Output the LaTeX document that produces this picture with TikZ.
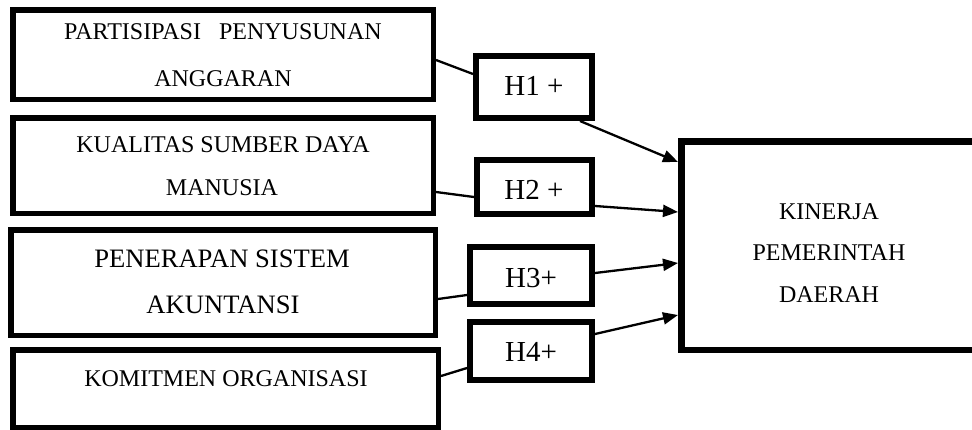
\documentclass[tikz,border=0pt]{standalone}
\usepackage{fontspec}
\setmainfont{Liberation Serif}
\usetikzlibrary{arrows.meta}
\begin{document}
\begin{tikzpicture}[x=1pt,y=-1pt,
  varbox/.style={draw=black,line width=5.5pt,rectangle,inner sep=0pt,anchor=north west},
  hypbox/.style={draw=black,line width=6pt,rectangle,inner sep=0pt,anchor=north west},
  lbl/.style={anchor=base,inner sep=0pt,font=\fontsize{24}{28}\selectfont},
  lblbig/.style={anchor=base,inner sep=0pt,font=\fontsize{26.6}{30}\selectfont},
  hlbl/.style={anchor=base,inner sep=0pt,font=\fontsize{29}{34}\selectfont},
  conn/.style={line width=2.3pt},
  arr/.style={line width=2.3pt,-{Triangle[length=15pt,width=12pt]}}]
\useasboundingbox (0,0) rectangle (972,429);
% variable boxes
\node[varbox,minimum width=420.5pt,minimum height=89.5pt] (b1) at (10,7) {};
\node[varbox,minimum width=420.5pt,minimum height=95.5pt] (b2) at (10,115) {};
\node[varbox,minimum width=424.5pt,minimum height=105.5pt] (b3) at (8,227) {};
\node[varbox,minimum width=425.5pt,minimum height=77.5pt] (b4) at (10,347) {};
% hypothesis boxes
\node[hypbox,minimum width=116pt,minimum height=62pt] (h1) at (473,53) {};
\node[hypbox,minimum width=115pt,minimum height=54pt] (h2) at (474,157) {};
\node[hypbox,minimum width=122pt,minimum height=57pt] (h3) at (467,244) {};
\node[hypbox,minimum width=122pt,minimum height=58pt] (h4) at (467,319) {};
% dependent box
\node[draw=black,line width=6.5pt,rectangle,inner sep=0pt,anchor=north west,minimum width=400pt,minimum height=208.5pt] (k) at (678,138) {};
% texts
\node[lbl] (t1a) at (223,39) {PARTISIPASI\ \ \ PENYUSUNAN};
\node[lbl] (t1b) at (223,86) {ANGGARAN};
\node[lbl] (t2a) at (223,152) {KUALITAS SUMBER DAYA};
\node[lbl] (t2b) at (222,195) {MANUSIA};
\node[lblbig] (t3a) at (222,267) {PENERAPAN SISTEM};
\node[lblbig] (t3b) at (223,313) {AKUNTANSI};
\node[lbl] (t4a) at (226,386) {KOMITMEN ORGANISASI};
\node[lbl] (tka) at (829,219) {KINERJA};
\node[lbl] (tkb) at (829,260) {PEMERINTAH};
\node[lbl] (tkc) at (829,302) {DAERAH};
\node[hlbl] (th1) at (534,95) {H1 +};
\node[hlbl] (th2) at (534,199) {H2 +};
\node[hlbl] (th3) at (531,287) {H3+};
\node[hlbl] (th4) at (531,361) {H4+};
% connectors
\draw[conn] (b1.east |- 0,60) -- (h1.west |- 0,74);
\draw[arr] (h1.south -| 580,0) -- (k.west |- 0,162);
\draw[conn] (b2.east |- 0,192) -- (h2.west |- 0,197);
\draw[arr] (h2.east |- 0,206) -- (k.west |- 0,212);
\draw[conn] (b3.east |- 0,299) -- (h3.west |- 0,295);
\draw[arr] (h3.east |- 0,273) -- (k.west |- 0,263);
\draw[conn] (b4.east |- 0,376) -- (h4.west |- 0,368);
\draw[arr] (h4.east |- 0,334) -- (k.west |- 0,315);
\end{tikzpicture}
\end{document}
